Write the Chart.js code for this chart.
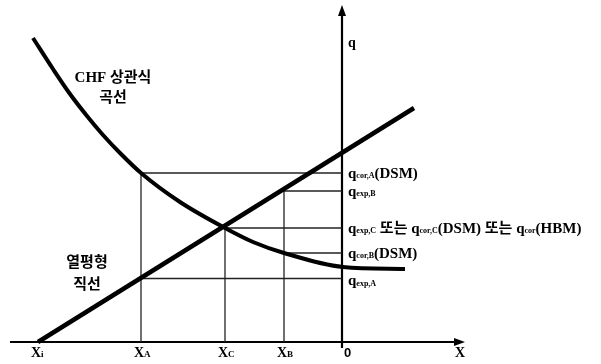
<!DOCTYPE html>
<html>
<head>
<meta charset="utf-8">
<script src="https://cdn.jsdelivr.net/npm/chart.js@4.4.0/dist/chart.umd.min.js"></script>
<style>
  html, body { margin: 0; padding: 0; background: #fff; }
  #wrap { width: 601px; height: 364px; }
</style>
</head>
<body>
<div id="wrap"><canvas id="chart" width="601" height="364"></canvas></div>
<script>
// points marked on the X axis (0 is where the q axis stands)
const xNames = ['i', 'A', 'C', 'B'];
const xValues = [-30.4, -20.1, -11.7, -5.8];

// q levels marked at the right of the q axis, top to bottom
const qLevels = [16.9, 15.1, 11.4, 8.9, 6.35];
const qLabels = [
  'q_{cor,A}(DSM)',
  'q_{exp,B}',
  'q_{exp,C} 또는 q_{cor,C}(DSM) 또는 q_{cor}(HBM)',
  'q_{cor,B}(DSM)',
  'q_{exp,A}'
];
// which X point each level is read from
const qFrom = ['A', 'B', 'C', 'B', 'A'];

// CHF correlation curve
const curveX = [-30.9, -28.9, -27.2, -25.5, -23.9, -22.2, -20.1, -16.2, -11.7, -8.9, -5.8, 0.1, 6.3];
const curveQ = [30.4, 27.3, 24.8, 22.6, 20.7, 18.9, 16.9, 14.0, 11.4, 10.0, 8.9, 7.5, 7.3];

// heat balance straight line
const lineX = [-30.4, 7.2];
const lineQ = [0, 23.4];

const serif = "'Liberation Serif', 'DejaVu Serif', 'Noto Sans CJK KR', serif";

function xOf(name) {
  return xValues[xNames.indexOf(name)];
}

// thin guide lines: one horizontal per level, one vertical per X point
const guides = [];
qLevels.forEach((q, i) => {
  guides.push([{ x: xOf(qFrom[i]), y: q }, { x: 0, y: q }]);
});
xNames.slice(1).forEach(name => {
  let top = 0;
  qFrom.forEach((n, i) => { if (n === name) top = Math.max(top, qLevels[i]); });
  guides.push([{ x: xOf(name), y: 0 }, { x: xOf(name), y: top }]);
});

const datasets = guides.map(pts => ({
  data: pts,
  showLine: true,
  borderColor: '#222',
  borderWidth: 1.3,
  pointRadius: 0,
  order: 5
}));

datasets.push({
  data: curveX.map((x, i) => ({ x: x, y: curveQ[i] })),
  showLine: true,
  borderColor: '#000',
  borderWidth: 4,
  pointRadius: 0,
  cubicInterpolationMode: 'monotone',
  order: 1
});
datasets.push({
  data: lineX.map((x, i) => ({ x: x, y: lineQ[i] })),
  showLine: true,
  borderColor: '#000',
  borderWidth: 4.5,
  pointRadius: 0,
  order: 0
});

// draws "q_{sub}" style text
function drawRich(ctx, str, x, y, size, subSize) {
  const parts = str.split(/(_\{[^}]*\})/);
  parts.forEach(p => {
    if (!p) return;
    if (p.startsWith('_{')) {
      const s = p.slice(2, -1);
      ctx.font = 'bold ' + subSize + 'px ' + serif;
      ctx.fillText(s, x, y + 2);
      x += ctx.measureText(s).width;
    } else {
      ctx.font = 'bold ' + size + 'px ' + serif;
      ctx.fillText(p, x, y);
      x += ctx.measureText(p).width;
    }
  });
  return x;
}

const sketchPlugin = {
  id: 'sketch',
  beforeDatasetsDraw(chart) {
    const ctx = chart.ctx;
    const xs = chart.scales.x, ys = chart.scales.y;
    const x0 = xs.getPixelForValue(0), y0 = ys.getPixelForValue(0);
    ctx.save();
    ctx.strokeStyle = '#000';
    ctx.fillStyle = '#000';
    ctx.lineWidth = 2.2;
    // X axis
    const xEnd = xs.getPixelForValue(12.3);
    ctx.beginPath();
    ctx.moveTo(xs.getPixelForValue(-33.2), y0);
    ctx.lineTo(xEnd - 6, y0);
    ctx.stroke();
    ctx.beginPath();
    ctx.moveTo(xEnd, y0);
    ctx.lineTo(xEnd - 11, y0 - 4);
    ctx.lineTo(xEnd - 11, y0 + 4);
    ctx.closePath();
    ctx.fill();
    // q axis
    const yEnd = ys.getPixelForValue(33.7);
    ctx.beginPath();
    ctx.moveTo(x0, ys.getPixelForValue(-0.6));
    ctx.lineTo(x0, yEnd + 6);
    ctx.stroke();
    ctx.beginPath();
    ctx.moveTo(x0, yEnd);
    ctx.lineTo(x0 - 4, yEnd + 11);
    ctx.lineTo(x0 + 4, yEnd + 11);
    ctx.closePath();
    ctx.fill();
    ctx.restore();
  },
  afterDraw(chart) {
    const ctx = chart.ctx;
    const xs = chart.scales.x, ys = chart.scales.y;
    const x0 = xs.getPixelForValue(0), y0 = ys.getPixelForValue(0);
    ctx.save();
    ctx.fillStyle = '#000';
    ctx.textBaseline = 'middle';
    ctx.textAlign = 'left';

    // level labels
    qLabels.forEach((lab, i) => {
      const y = ys.getPixelForValue(qLevels[i]);
      const dy = i === 4 ? 3 : 1;
      drawRich(ctx, lab, x0 + 6, y + dy, 15, 8);
    });

    // X axis labels
    xNames.forEach((n, i) => {
      const px = xs.getPixelForValue(xValues[i]);
      ctx.font = 'bold 14px ' + serif;
      const w = ctx.measureText('X').width;
      ctx.fillText('X', px - 7, y0 + 11);
      ctx.font = 'bold 9px ' + serif;
      ctx.fillText(n, px - 7 + w, y0 + 13);
    });
    ctx.font = 'bold 13px ' + "'Liberation Sans', Arial, sans-serif";
    ctx.fillText('0', x0 + 2, y0 + 11);
    ctx.font = 'bold 14px ' + serif;
    ctx.fillText('X', xs.getPixelForValue(11.3), y0 + 11);
    ctx.fillText('q', x0 + 6, ys.getPixelForValue(29.9));

    // curve names
    ctx.textAlign = 'center';
    ctx.font = 'bold 15px ' + serif;
    ctx.fillText('CHF 상관식', xs.getPixelForValue(-22.9), ys.getPixelForValue(26.4));
    ctx.fillText('곡선', xs.getPixelForValue(-22.9), ys.getPixelForValue(24.4));
    ctx.fillText('열평형', xs.getPixelForValue(-25.5), ys.getPixelForValue(7.9));
    ctx.fillText('직선', xs.getPixelForValue(-25.5), ys.getPixelForValue(5.7));
    ctx.restore();
  }
};

new Chart(document.getElementById('chart'), {
  type: 'scatter',
  data: { datasets: datasets },
  options: {
    responsive: false,
    animation: false,
    layout: { padding: 0 },
    plugins: { legend: { display: false }, tooltip: { enabled: false } },
    scales: {
      x: { type: 'linear', min: -34.2, max: 25.9, display: false },
      y: { type: 'linear', min: -2.2, max: 34.2, display: false }
    }
  },
  plugins: [sketchPlugin]
});
</script>
</body>
</html>
